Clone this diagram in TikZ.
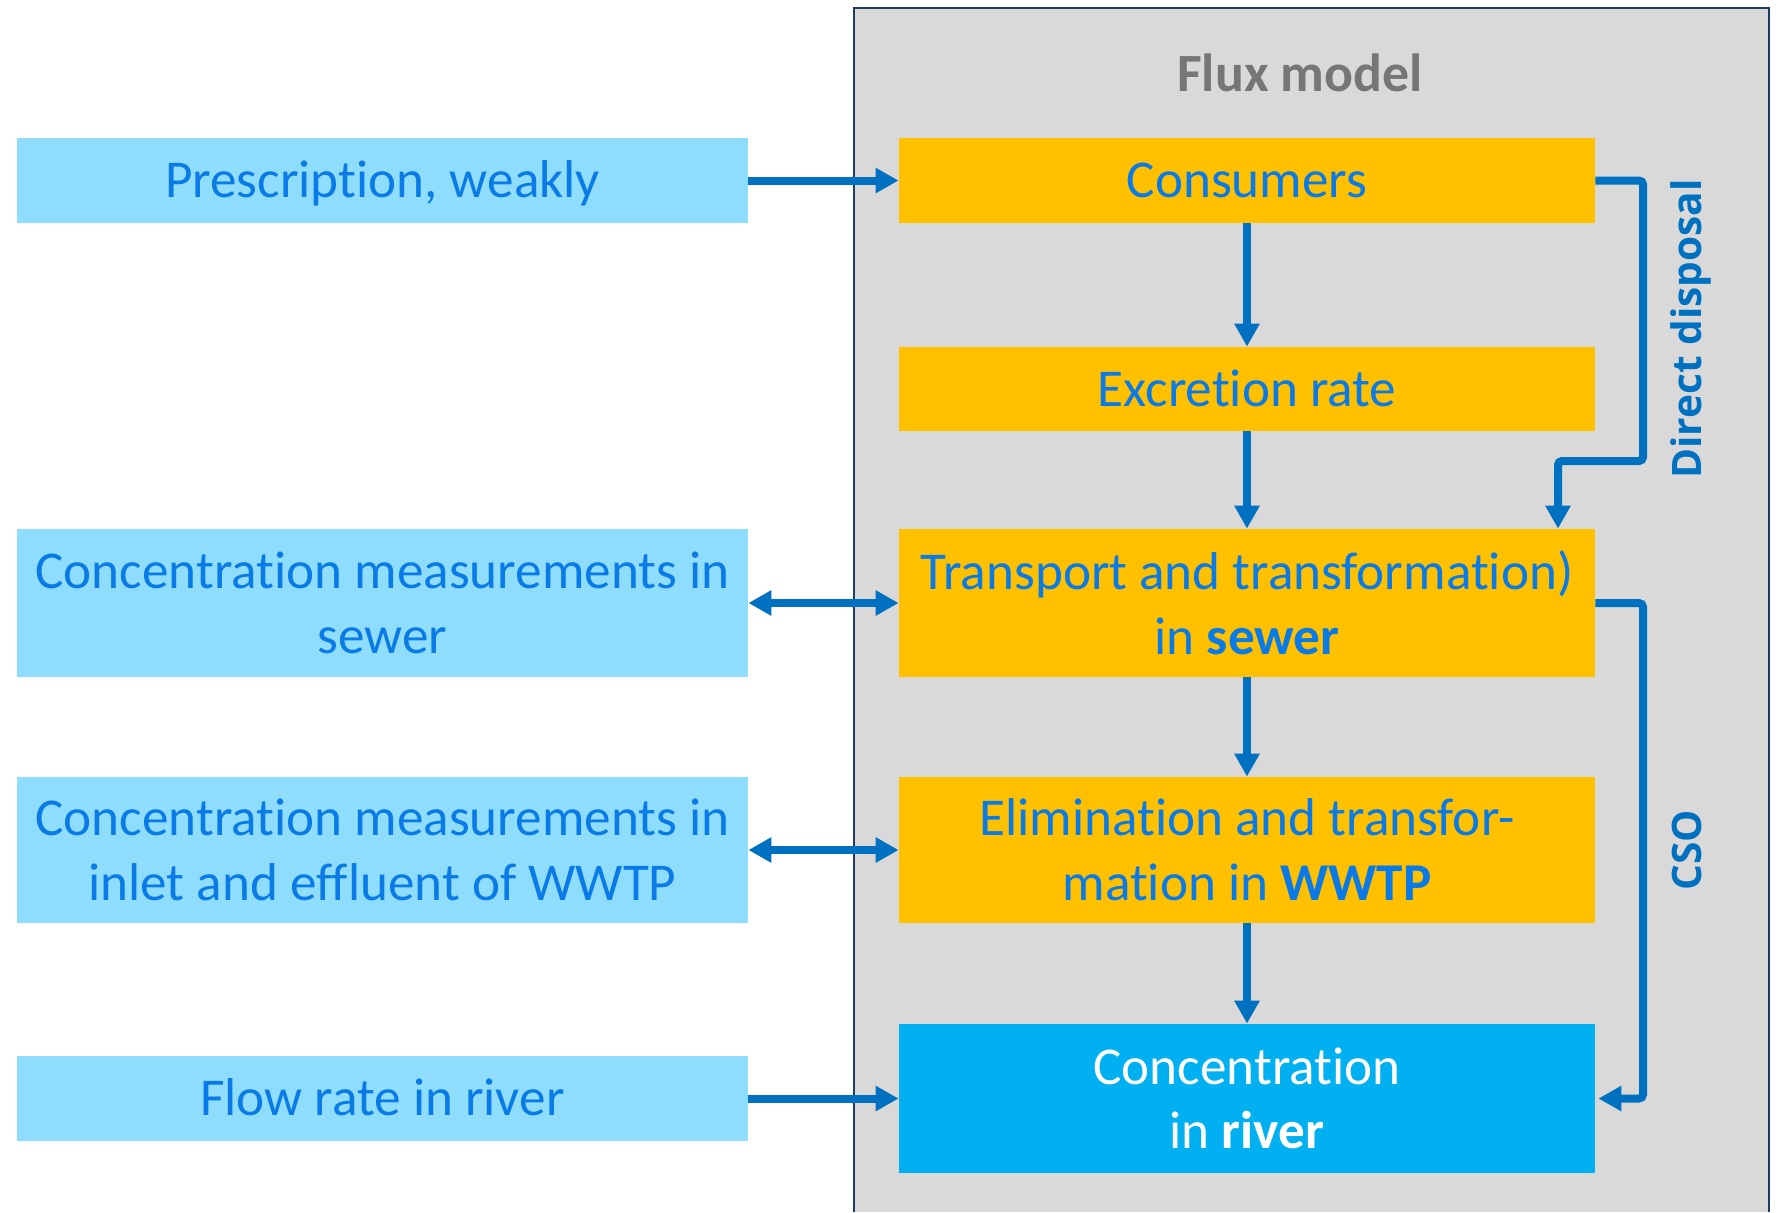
\documentclass[tikz,border=0pt]{standalone}
\usepackage{fontspec}
\setmainfont{Carlito}[Ligatures=NoCommon]
\newfontfamily\sidefont{Open Sans}
\usetikzlibrary{arrows.meta,calc}
\definecolor{txtblue}{RGB}{10,122,230}
\definecolor{arrblue}{RGB}{0,112,192}
\definecolor{inputfill}{RGB}{142,221,253}
\definecolor{procfill}{RGB}{255,192,0}
\definecolor{riverfill}{RGB}{0,176,240}
\definecolor{panelfill}{RGB}{217,217,217}
\definecolor{panelline}{RGB}{31,59,99}
\definecolor{titlegrey}{RGB}{118,118,118}

\begin{document}
\begin{tikzpicture}[x=0.5pt,y=-0.5pt,
  box/.style={rectangle, inner sep=0pt, align=center, text=txtblue,
    font=\fontsize{26.6}{32.3}\selectfont},
  oneline/.style={text height=17.4pt, text depth=0pt},
  inputbox/.style={box, fill=inputfill, minimum width=365.5pt},
  procbox/.style={box, fill=procfill, minimum width=348pt},
  riverbox/.style={box, fill=riverfill, text=white, minimum width=348pt},
  tip/.tip={Triangle[width=12pt,length=11.5pt]},
  flowline/.style={draw=arrblue, line width=4pt, -tip},
  twoway/.style={draw=arrblue, line width=4pt, tip-tip},
  sidelabel/.style={text=arrblue, rotate=90, inner sep=0pt,
    font=\sidefont\bfseries\fontsize{20.3}{24}\selectfont},
]
\useasboundingbox (0,0) rectangle (1783,1212);

% model panel
\fill[panelfill] (854,8) rectangle (1769,1212);
\draw[panelline, line width=1pt] (854,1212) -- (854,8) -- (1769,8) -- (1769,1212);
\node[anchor=base, text=titlegrey, font=\bfseries\fontsize{26.9}{32}\selectfont]
  (title) at (1300,91) {Flux model};

% input data
\node[inputbox, oneline, minimum height=42.5pt] (pres) at (382.5,180.5) {Prescription, weakly};
\node[inputbox, minimum height=74pt] (sewm) at (382.5,603) {Concentration measurements in\\sewer};
\node[inputbox, minimum height=73pt] (inm) at (382.5,850) {Concentration measurements in\\inlet and effluent of WWTP};
\node[inputbox, oneline, minimum height=42.5pt] (flow) at (382.5,1098.5) {Flow rate in river};

% model compartments
\node[procbox, oneline, minimum height=42.5pt] (cons) at (1247,180.5) {Consumers};
\node[procbox, oneline, minimum height=42pt] (excr) at (1247,389) {Excretion rate};
\node[procbox, minimum height=74pt] (trans) at (1247,603) {Transport and transformation)\\in \textbf{sewer}};
\node[procbox, minimum height=73pt] (elim) at (1247,850) {Elimination and transfor-\\mation in \textbf{WWTP}};
\node[riverbox, minimum height=74.5pt] (river) at (1247,1098.5) {Concentration\\in \textbf{river}};

% inputs into the model
\draw[flowline] (pres) -- (cons);
\draw[twoway] (sewm) -- (trans);
\draw[twoway] (inm) -- (elim);
\draw[flowline] (flow) -- (river);

% main chain
\draw[flowline] (cons) -- (excr);
\draw[flowline] (excr) -- (trans);
\draw[flowline] (trans) -- (elim);
\draw[flowline] (elim) -- (river);

% bypass routes
\coordinate (ddA) at (1643,180.5);
\coordinate (ddB) at (1558,461);
\draw[flowline, rounded corners=2pt] (cons.east) -- (ddA) -- (ddA |- ddB) -- (ddB) -- (ddB |- trans.north);
\coordinate (csoA) at (1643,603);
\draw[flowline, rounded corners=2pt, shorten >=1.5pt] (trans.east) -- (csoA) -- (csoA |- river.east) -- (river.east);

\node[sidelabel] (ddlabel) at (1691,329) {Direct disposal};
\node[sidelabel] (csolabel) at (1687,850) {CSO};
\end{tikzpicture}
\end{document}
